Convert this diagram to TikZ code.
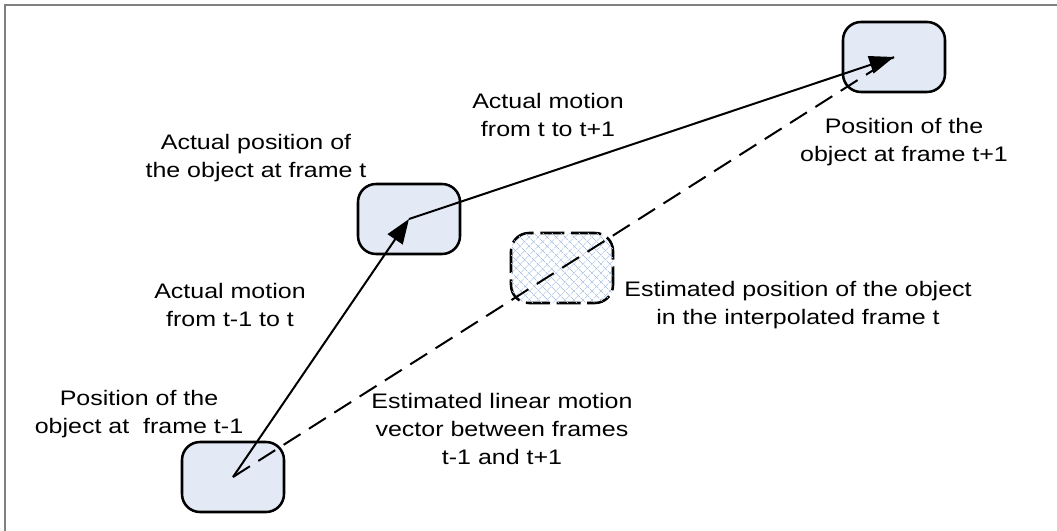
\documentclass[tikz,border=0pt]{standalone}
\usepackage{fontspec}
\newfontfamily\lblfont[FakeStretch=1.19]{Liberation Sans}
\usetikzlibrary{arrows.meta,patterns.meta}
\definecolor{boxfill}{RGB}{228,234,245}
\definecolor{hatchblue}{RGB}{175,196,228}

\tikzset{
  posbox/.style={draw, line width=1.9pt, fill=boxfill, rounded corners=13.5pt,
    minimum width=76.5pt, minimum height=52.5pt, inner sep=0pt},
  estbox/.style={posbox, fill=none, dash pattern=on 18pt off 5pt,
    pattern={Lines[angle=45,distance=5.4pt,line width=0.7pt]}, pattern color=hatchblue,
    postaction={pattern={Lines[angle=-45,distance=5.4pt,line width=0.7pt]}, pattern color=hatchblue}},
  lbl/.style={align=center, font=\lblfont\fontsize{15.75}{21}\selectfont},
  motion/.style={line width=1.5pt, -{Triangle[length=18.5pt,width=13.5pt]}},
  estline/.style={line width=1.5pt, dash pattern=on 15pt off 7.5pt}
}

\begin{document}
\begin{tikzpicture}[x=0.75pt,y=-0.75pt]
  \useasboundingbox (0,0) rectangle (1057,531);
  \draw[gray, line width=1.5pt] (5,531) -- (5,5) -- (1057,5);

  % positions of the object
  \node[posbox] (prev) at (233,477) {};
  \node[posbox] (curr) at (409,219) {};
  \node[posbox] (next) at (894,57) {};
  \node[estbox] (est) at (562,268) {};

  % motion vectors
  \draw[estline] (prev.center) -- (next.center);
  \draw[motion] (prev.center) -- (curr.center);
  \draw[motion] (curr.center) -- (next.center);

  % labels
  \node[lbl] (lprev) at (139,414) {Position of the\\object at\ \ frame t-1};
  \node[lbl] (lcurr) at (256,158) {Actual position of\\the object at frame t};
  \node[lbl] (lnext) at (904,142) {Position of the\\object at frame t+1};
  \node[lbl] (mfirst) at (230,305) {Actual motion\\from t-1 to t};
  \node[lbl] (msecond) at (548,115) {Actual motion\\from t to t+1};
  \node[lbl] (lest) at (798,305) {Estimated position of the object\\in the interpolated frame t};
  \node[lbl] (lline) at (502,429) {Estimated linear motion\\vector between frames\\t-1 and t+1};
\end{tikzpicture}
\end{document}
